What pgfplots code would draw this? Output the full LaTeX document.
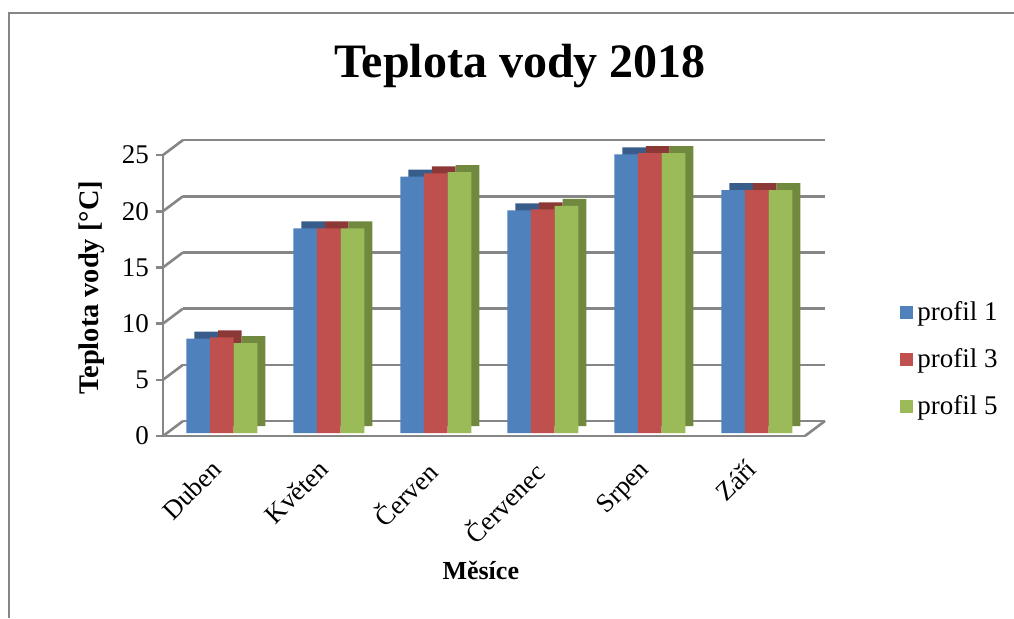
\documentclass[border=0pt]{standalone}
\usepackage{pgfplots}
\usepackage{pgfplotstable}
\usepackage{fontspec}
\setmainfont{Liberation Serif}
\pgfplotsset{compat=1.18}
\definecolor{gridgray}{RGB}{134,134,134}
\definecolor{bBlue}{RGB}{79,129,189}
\definecolor{bRed}{RGB}{192,80,77}
\definecolor{bGreen}{RGB}{155,187,89}
\definecolor{dBlue}{RGB}{56,93,138}
\definecolor{dRed}{RGB}{140,56,54}
\definecolor{dGreen}{RGB}{113,137,63}
\pgfplotstableread{
x p1 p3 p5
0 8.4 8.5 8.0
1 18.2 18.2 18.2
2 22.8 23.1 23.2
3 19.8 19.9 20.2
4 24.8 24.9 24.9
5 21.6 21.6 21.6
}\data
\pgfplotsset{
  base/.style={scale only axis, width=321pt, height=140.5pt,
    xmin=-0.55, xmax=5.45, ymin=0, ymax=25, clip=false,
    anchor=south west},
}
\begin{document}
\begin{tikzpicture}
\useasboundingbox (0,0) rectangle (507pt,309pt);
% chart frame (top and left)
\draw[gridgray, line width=1pt] (4.5pt,0) -- (4.5pt,302.6pt) -- (507pt,302.6pt);
% title
\node[font=\fontsize{24}{28}\selectfont\bfseries] at (260pt,276pt) {Teplota vody 2018};
% back wall
\begin{axis}[base, at={(91.5pt,98.5pt)},
  axis line style={draw=none}, xtick=\empty, ytick={0,5,...,25},
  yticklabels={}, major tick length=0pt,
  ymajorgrids, grid style={gridgray, line width=1.3pt}]
\end{axis}
% front axis
\begin{axis}[base, at={(81.5pt,91pt)},
  axis lines*=left, axis line style={gridgray, line width=1.3pt},
  ytick={0,5,...,25}, tick align=outside,
  ytick style={gridgray, line width=1.3pt}, major tick length=3.5pt,
  xtick={0,...,5}, xtick style={draw=none},
  xticklabels={Duben,Květen,Červen,Červenec,Srpen,Září},
  /pgf/number format/assume math mode=true,
  ticklabel style={font=\fontsize{13.5}{16}\selectfont},
  xticklabel style={font=\fontsize{13.2}{15}\selectfont, anchor=north east, inner sep=0pt, xshift=-6pt, yshift=-7.5pt, rotate=45},
  xlabel={Měsíce}, ylabel={Teplota vody [°C]},
  xlabel style={font=\fontsize{13}{15}\selectfont\bfseries, at={(axis description cs:0.495,-0.48)}, anchor=center},
  ylabel style={font=\fontsize{14.2}{16}\selectfont\bfseries, at={(axis description cs:-0.1106,0.527)}, anchor=center, rotate=0},
]
\pgfplotsinvokeforeach{0,5,...,25}{
  \draw[gridgray, line width=1.3pt] (axis cs:-0.55,#1) -- ++(10pt,7.5pt);
}
\draw[gridgray, line width=1.3pt] (axis cs:5.45,0) -- ++(10pt,7.5pt);
\end{axis}
% shadow (3D depth) bars
\begin{axis}[base, at={(85.5pt,96pt)}, hide axis,
  ybar=0pt, bar width=11.85pt]
\addplot[fill=dBlue, draw=none] table[x=x, y=p1] {\data};
\addplot[fill=dRed, draw=none] table[x=x, y=p3] {\data};
\addplot[fill=dGreen, draw=none] table[x=x, y=p5] {\data};
\end{axis}
% front bars
\begin{axis}[base, at={(81.5pt,92.5pt)}, hide axis,
  ybar=0pt, bar width=11.85pt,
  legend style={at={(axis description cs:1.148,0.26)}, anchor=west,
    draw=none, fill=none, inner sep=0pt, row sep=8.5pt,
    font=\fontsize{13.5}{16}\selectfont},
  legend cell align=left,
  legend image code/.code={\fill[#1] (0pt,-3.25pt) rectangle (6.5pt,3.25pt);},
]
\addplot[fill=bBlue, draw=none] table[x=x, y=p1] {\data};
\addplot[fill=bRed, draw=none] table[x=x, y=p3] {\data};
\addplot[fill=bGreen, draw=none] table[x=x, y=p5] {\data};
\legend{profil 1, profil 3, profil 5}
\end{axis}
\end{tikzpicture}
\end{document}
